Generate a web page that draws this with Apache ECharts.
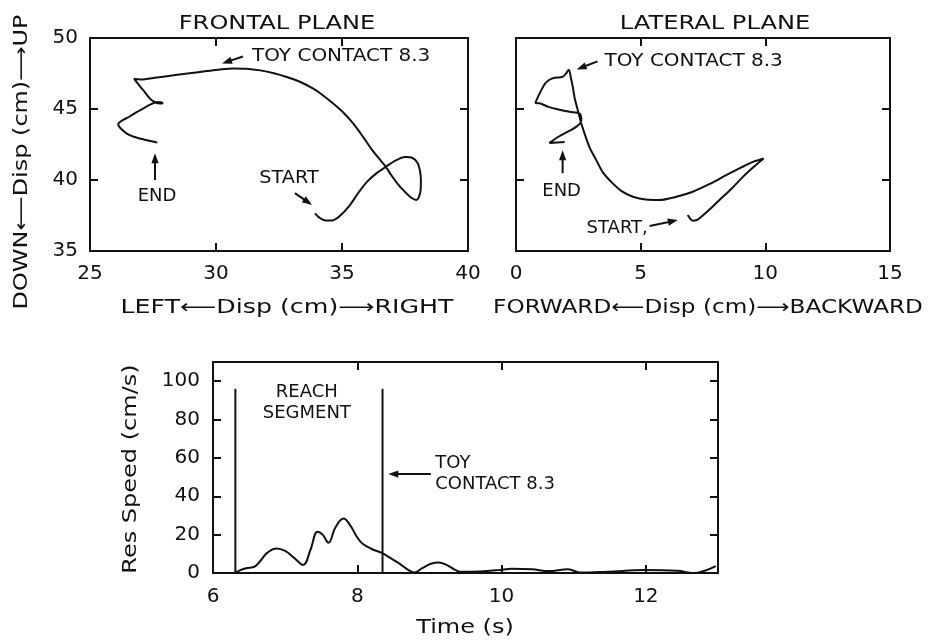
<!DOCTYPE html>
<html>
<head>
<meta charset="utf-8">
<script src="https://cdn.jsdelivr.net/npm/echarts@6/dist/echarts.min.js"></script>
<style>
  html, body { margin: 0; padding: 0; background: #fff; }
  #chart { width: 933px; height: 641px; }
</style>
</head>
<body>
<div id="chart"></div>
<script>
// Hand trajectory in the frontal plane (cm), from START to END
const frontalX = [33.93, 34.10, 34.35, 34.60, 34.90, 35.30, 35.65, 35.98, 36.35, 36.74, 37.10, 37.50, 37.80, 38.00, 38.10, 38.13, 38.12, 38.05, 37.95, 37.75, 37.45, 37.20, 36.95, 36.74, 36.45, 36.20, 35.85, 35.45, 35.05, 34.65, 34.25, 33.86, 33.35, 32.81, 32.30, 31.75, 31.20, 30.69, 30.15, 29.63, 28.95, 28.31, 27.65, 27.00, 26.75, 27.12, 27.45, 27.78, 27.88, 27.70, 26.98, 26.59, 26.12, 26.46, 26.98, 27.67];
const frontalY = [37.65, 37.35, 37.15, 37.15, 37.45, 38.20, 39.10, 39.85, 40.45, 40.93, 41.35, 41.62, 41.55, 41.20, 40.60, 40.00, 39.30, 38.80, 38.60, 38.75, 39.25, 39.75, 40.35, 40.93, 41.55, 42.10, 43.00, 43.97, 44.75, 45.38, 45.95, 46.43, 46.90, 47.25, 47.52, 47.72, 47.83, 47.85, 47.78, 47.67, 47.52, 47.37, 47.22, 47.08, 47.13, 46.31, 45.61, 45.38, 45.42, 45.50, 44.91, 44.49, 43.93, 43.27, 42.92, 42.64];

// Hand trajectory in the lateral plane (cm), from START to END
const lateralX = [6.89, 7.00, 7.09, 7.25, 7.36, 7.75, 8.16, 8.65, 9.10, 9.55, 9.93, 9.75, 9.50, 9.00, 8.43, 7.80, 7.09, 6.40, 5.76, 5.20, 4.69, 4.25, 3.88, 3.50, 3.22, 2.95, 2.75, 2.60, 2.48, 2.36, 2.28, 2.20, 2.12, 2.00, 1.90, 1.74, 1.55, 1.34, 1.15, 1.01, 0.88, 0.78, 0.95, 1.30, 1.74, 2.15, 2.55, 2.62, 2.41, 1.74, 1.34, 1.95];
const lateralY = [37.54, 37.25, 37.13, 37.18, 37.30, 37.90, 38.59, 39.40, 40.22, 40.95, 41.52, 41.42, 41.28, 40.85, 40.34, 39.75, 39.17, 38.80, 38.59, 38.62, 38.82, 39.20, 39.76, 40.50, 41.40, 42.30, 43.27, 44.10, 44.91, 45.70, 46.54, 47.20, 47.77, 47.49, 47.30, 47.22, 47.20, 47.06, 46.75, 46.31, 45.85, 45.42, 45.40, 45.15, 44.95, 44.80, 44.68, 44.21, 43.74, 43.08, 42.61, 42.68];

// Resultant hand speed over time
const timeS = [6.30, 6.38, 6.46, 6.58, 6.65, 6.75, 6.88, 7.00, 7.12, 7.25, 7.35, 7.45, 7.52, 7.60, 7.70, 7.81, 7.90, 8.00, 8.07, 8.20, 8.34, 8.45, 8.58, 8.70, 8.79, 8.90, 9.02, 9.13, 9.25, 9.35, 9.43, 9.70, 9.96, 10.14, 10.42, 10.65, 10.92, 11.10, 11.48, 11.98, 12.44, 12.65, 12.97];
const speed = [0, 1.5, 2.5, 3.4, 6, 10.5, 12.8, 11.5, 8, 4.2, 12, 21.5, 20, 15.8, 24, 28.4, 25, 18.5, 15.4, 12.5, 10.5, 8, 5, 1.8, 0.2, 2.5, 4.8, 5.5, 4, 1.8, 0.6, 0.8, 1.5, 2.2, 1.9, 1.0, 1.9, 0.2, 0.7, 1.5, 1.2, 0, 3.6];

// Reach segment boundaries (s) and the height of the marker lines (cm/s)
const reachStart = 6.31;
const toyContact = 8.35;
const markerTop = 96;

// Axis ranges and tick steps
const frontalTicks = { xMin: 25, xMax: 40, xStep: 5, yMin: 35, yMax: 50, yStep: 5 };
const lateralTicks = { xMin: 0, xMax: 15, xStep: 5, yMin: 35, yMax: 50, yStep: 5 };
const speedTicks = { xMin: 6, xMax: 13, xStep: 2, yMin: 0, yMax: 110, yStep: 20 };

const INK = '#111';
const FONT = '"DejaVu Sans", sans-serif';

const zip = (a, b) => a.map((v, i) => [v, b[i]]);

function boxAxis(kind, grid, t, pos, showLabels, extra) {
  const isX = kind === 'x';
  return Object.assign({
    type: 'value',
    gridIndex: grid,
    position: pos,
    min: isX ? t.xMin : t.yMin,
    max: isX ? t.xMax : t.yMax,
    interval: isX ? t.xStep : t.yStep,
    axisLine: { show: true, onZero: false, lineStyle: { color: INK, width: 2 } },
    axisTick: { show: true, inside: true, length: 8, lineStyle: { color: INK, width: 2 } },
    splitLine: { show: false },
    axisLabel: {
      show: showLabels,
      color: INK,
      fontFamily: FONT,
      fontSize: 20,
      margin: 13
    }
  }, extra || {});
}

const chart = echarts.init(document.getElementById('chart'), null, { renderer: 'canvas' });

const option = {
  animation: false,
  backgroundColor: '#fff',
  grid: [
    { left: 90, top: 38, width: 378, height: 213 },
    { left: 516, top: 38, width: 374, height: 213 },
    { left: 213, top: 362, width: 505, height: 211 }
  ],
  xAxis: [
    boxAxis('x', 0, frontalTicks, 'bottom', true),
    boxAxis('x', 0, frontalTicks, 'top', false),
    boxAxis('x', 1, lateralTicks, 'bottom', true),
    boxAxis('x', 1, lateralTicks, 'top', false),
    boxAxis('x', 2, speedTicks, 'bottom', true),
    boxAxis('x', 2, speedTicks, 'top', false)
  ],
  yAxis: [
    boxAxis('y', 0, frontalTicks, 'left', true),
    boxAxis('y', 0, frontalTicks, 'right', false),
    boxAxis('y', 1, lateralTicks, 'left', false),
    boxAxis('y', 1, lateralTicks, 'right', false),
    boxAxis('y', 2, speedTicks, 'left', true),
    boxAxis('y', 2, speedTicks, 'right', false)
  ],
  series: [
    {
      name: 'Frontal plane', type: 'line', xAxisIndex: 0, yAxisIndex: 0,
      data: zip(frontalX, frontalY), showSymbol: false, smooth: 0.3,
      lineStyle: { color: INK, width: 2 }
    },
    {
      name: 'Lateral plane', type: 'line', xAxisIndex: 2, yAxisIndex: 2,
      data: zip(lateralX, lateralY), showSymbol: false, smooth: 0.3,
      lineStyle: { color: INK, width: 2 }
    },
    {
      name: 'Res speed', type: 'line', xAxisIndex: 4, yAxisIndex: 4,
      data: zip(timeS, speed), showSymbol: false, smooth: 0.4,
      lineStyle: { color: INK, width: 2 }
    },
    {
      name: 'Reach start', type: 'line', xAxisIndex: 4, yAxisIndex: 4,
      data: [[reachStart, 0], [reachStart, markerTop]], showSymbol: false,
      lineStyle: { color: INK, width: 2 }
    },
    {
      name: 'Toy contact', type: 'line', xAxisIndex: 4, yAxisIndex: 4,
      data: [[toyContact, 0], [toyContact, markerTop]], showSymbol: false,
      lineStyle: { color: INK, width: 2 }
    }
  ]
};
// speed axes: no label at the 110 edge, no label at 13 s
option.xAxis[4].axisLabel.showMaxLabel = false;
option.xAxis[4].axisLabel.margin = 14;
option.yAxis[4].axisLabel.showMaxLabel = false;
option.yAxis[4].axisLabel.margin = 13;
option.yAxis[0].axisLabel.margin = 12;

chart.setOption(option);

// ---- Annotations, positioned in data units of each panel ----
// seriesIndex selects the panel: 0 frontal, 1 lateral, 2 speed
const notes = [
  { panel: 0, at: [31.43, 48.70], text: 'TOY CONTACT 8.3', align: 'left', scaleX: 1.11 },
  { panel: 0, at: [32.90, 40.13], text: 'START', align: 'center', scaleX: 1.07 },
  { panel: 0, at: [27.66, 38.87], text: 'END', align: 'center' },
  { panel: 1, at: [3.55, 48.35], text: 'TOY CONTACT 8.3', align: 'left', scaleX: 1.11 },
  { panel: 1, at: [1.83, 39.22], text: 'END', align: 'center' },
  { panel: 1, at: [2.83, 36.62], text: 'START,', align: 'left' },
  { panel: 2, at: [7.30, 88.5], text: 'REACH\nSEGMENT', align: 'center' },
  { panel: 2, at: [9.08, 51.8], text: 'TOY\nCONTACT 8.3', align: 'left' }
];
const arrows = [
  { panel: 0, from: [31.07, 48.70], to: [30.24, 48.21] },
  { panel: 0, from: [33.13, 39.08], to: [33.81, 38.24] },
  { panel: 0, from: [27.58, 39.99], to: [27.58, 41.89] },
  { panel: 1, from: [3.27, 48.35], to: [2.43, 47.79] },
  { panel: 1, from: [1.87, 40.48], to: [1.87, 42.10] },
  { panel: 1, from: [5.36, 36.76], to: [6.49, 37.18] },
  { panel: 2, from: [9.02, 51.56], to: [8.43, 51.56] }
];

function textEl(x, y, s, o) {
  o = o || {};
  return {
    type: 'text', x: x, y: y, rotation: o.rotation || 0,
    scaleX: o.scaleX || 1,
    style: {
      text: s, fill: INK,
      font: (o.size || 18) + 'px ' + FONT,
      align: o.align || 'center', verticalAlign: 'middle',
      textAlign: o.align || 'center', textVerticalAlign: 'middle',
      lineHeight: o.lineHeight || 21
    }
  };
}

const graphics = [];
notes.forEach(n => {
  const p = chart.convertToPixel({ seriesIndex: n.panel }, n.at);
  graphics.push(textEl(p[0], p[1], n.text, { align: n.align, size: 18, lineHeight: 21, scaleX: n.scaleX }));
});
arrows.forEach(a => {
  const p0 = chart.convertToPixel({ seriesIndex: a.panel }, a.from);
  const p1 = chart.convertToPixel({ seriesIndex: a.panel }, a.to);
  const dx = p1[0] - p0[0], dy = p1[1] - p0[1];
  const len = Math.hypot(dx, dy), ux = dx / len, uy = dy / len;
  const headL = 10, headW = 3.6;
  const bx = p1[0] - ux * headL, by = p1[1] - uy * headL;
  graphics.push({
    type: 'line',
    shape: { x1: p0[0], y1: p0[1], x2: bx + ux * 2, y2: by + uy * 2 },
    style: { stroke: INK, lineWidth: 2 }
  });
  graphics.push({
    type: 'polygon',
    shape: { points: [[p1[0], p1[1]], [bx - uy * headW, by + ux * headW], [bx + uy * headW, by - ux * headW]] },
    style: { fill: INK }
  });
});

// Panel titles and axis names
graphics.push(textEl(277, 24, 'FRONTAL PLANE', { size: 19, scaleX: 1.27 }));
graphics.push(textEl(715, 24, 'LATERAL PLANE', { size: 19, scaleX: 1.27 }));
graphics.push(textEl(287, 308, 'LEFT⟵Disp (cm)⟶RIGHT', { size: 19, scaleX: 1.33 }));
graphics.push(textEl(708, 308, 'FORWARD⟵Disp (cm)⟶BACKWARD', { size: 19, scaleX: 1.22 }));
graphics.push(textEl(22, 162, 'DOWN⟵Disp (cm)⟶UP', { size: 19, scaleX: 1.26, rotation: Math.PI / 2 }));
graphics.push(textEl(131, 469, 'Res Speed (cm/s)', { size: 20, scaleX: 1.2, rotation: Math.PI / 2 }));
graphics.push(textEl(465, 628, 'Time (s)', { size: 20, scaleX: 1.2 }));

chart.setOption({ graphic: graphics });
</script>
</body>
</html>
